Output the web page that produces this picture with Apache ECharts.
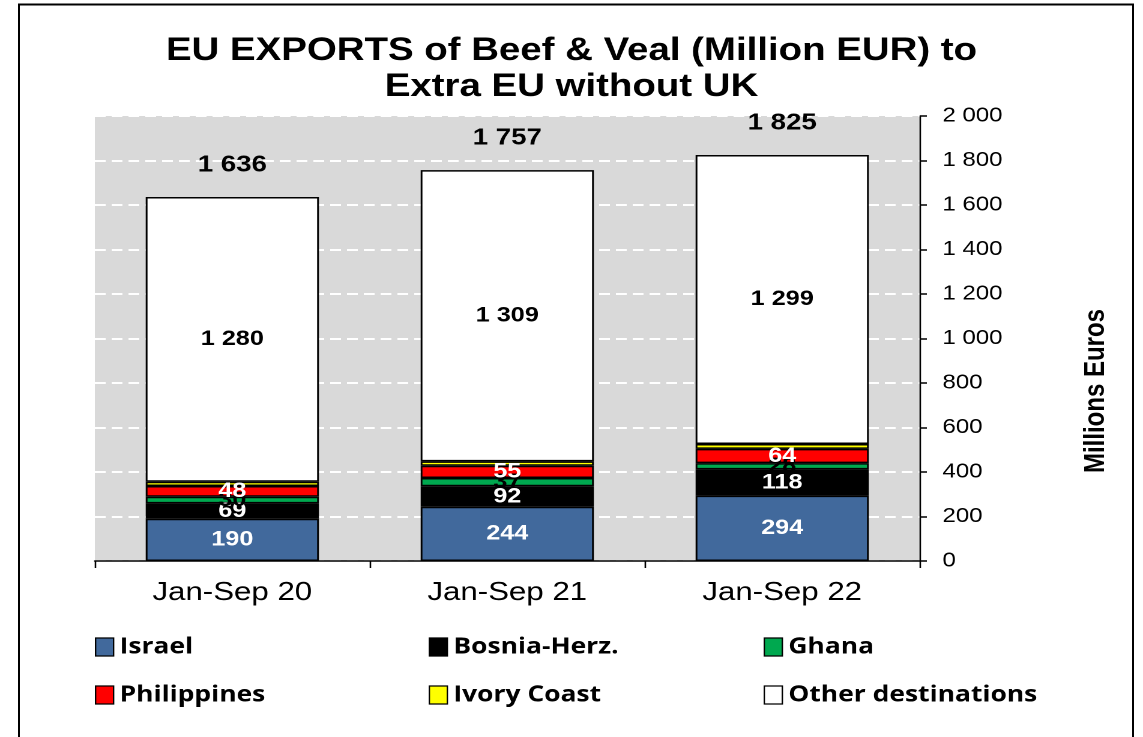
<!DOCTYPE html>
<html>
<head>
<meta charset="utf-8">
<script src="https://cdn.jsdelivr.net/npm/echarts@6/dist/echarts.min.js"></script>
<style>
html,body{margin:0;padding:0;background:#fff}
#wrap{width:1143px;height:737px;overflow:hidden;position:relative}
#c{position:absolute;left:0;top:0;width:952px;height:737px;transform:scaleX(1.2006);transform-origin:0 0}
#b{position:absolute;left:0;top:0;width:1143px;height:737px;pointer-events:none}
</style>
</head>
<body>
<div id="wrap"><div id="c"></div><div id="b"></div></div>
<script>
const categories = ['Jan-Sep 20', 'Jan-Sep 21', 'Jan-Sep 22'];
const israel = [190, 244, 294];
const bosnia = [69, 92, 118];
const ghana = [30, 37, 28];
const philippines = [48, 55, 64];
const ivoryCoast = [19, 20, 22];
const other = [1280, 1309, 1299];
const totals = [1636, 1757, 1825];
const yTicks = [0, 200, 400, 600, 800, 1000, 1200, 1400, 1600, 1800, 2000];

const fmt = v => String(v).replace(/\B(?=(\d{3})+(?!\d))/g, ' ');
const FONT = '"Liberation Sans", Arial, sans-serif';
const LEGFONT = '"Open Sans", "Liberation Sans", sans-serif';

function seg(name, data, color, labelColor) {
  return {
    name, type: 'bar', stack: 'total', data, barWidth: '63%',
    itemStyle: { color, borderColor: '#000', borderWidth: 1.5 },
    label: labelColor ? {
      show: true, position: 'inside', color: labelColor,
      fontFamily: FONT, fontWeight: 'bold', fontSize: 21,
      formatter: p => fmt(p.value)
    } : { show: false },
    emphasis: { disabled: true }
  };
}

const chart = echarts.init(document.getElementById('c'), null, { renderer: 'canvas', devicePixelRatio: 2, width: 952, height: 737 });
chart.setOption({
  backgroundColor: '#fff',
  animation: false,
  title: {
    text: 'EU EXPORTS of Beef & Veal (Million EUR) to\nExtra EU without UK',
    left: 'center', top: 28,
    textStyle: { fontFamily: FONT, fontWeight: 'bold', fontSize: 32, lineHeight: 36, color: '#000' }
  },
  grid: {
    left: 79, right: 186, top: 116, bottom: 176,
    show: true, backgroundColor: '#d9d9d9', borderWidth: 0
  },
  legend: [
    { data: ['Israel', 'Philippines'], left: 74 },
    { data: ['Bosnia-Herz.', 'Ivory Coast'], left: 352 },
    { data: ['Ghana', 'Other destinations'], left: 631 }
  ].map(l => Object.assign({
    orient: 'vertical', top: 630, itemGap: 24, itemWidth: 15, itemHeight: 18,
    icon: 'rect', selectedMode: false, itemStyle: { borderWidth: 1.2 },
    textStyle: { fontFamily: LEGFONT, fontWeight: 'bold', fontSize: 22, color: '#000', lineHeight: 24, padding: [0, 0, 0, 0] }
  }, l)),
  xAxis: {
    type: 'category', data: categories,
    axisLine: { lineStyle: { color: '#000', width: 1.5 } },
    axisTick: { show: true, alignWithLabel: false, length: 7, lineStyle: { color: '#000', width: 1.3 } },
    axisLabel: { fontFamily: FONT, fontSize: 26, color: '#000', margin: 19 },
    splitLine: { show: false }
  },
  yAxis: {
    type: 'value', position: 'right', min: 0, max: 2000, interval: 200,
    axisLine: { show: true, lineStyle: { color: '#000', width: 1.3 } },
    axisTick: { show: true, inside: false, length: 6, lineStyle: { color: '#000', width: 1.5 } },
    axisLabel: {
      fontFamily: FONT, fontSize: 20, color: '#000', margin: 19,
      formatter: v => yTicks.includes(v) ? fmt(v) : ''
    },
    splitLine: { show: true, lineStyle: { color: '#fff', width: 2, type: [9, 5] } }
  },
  series: [
    seg('Israel', israel, '#41699c', '#fff'),
    seg('Bosnia-Herz.', bosnia, '#000000', '#fff'),
    seg('Ghana', ghana, '#00a84f', '#000'),
    seg('Philippines', philippines, '#ff0000', '#fff'),
    seg('Ivory Coast', ivoryCoast, '#ffff00', null),
    seg('Other destinations', other, '#ffffff', '#000'),
    {
      name: 'Total', type: 'scatter', data: totals, symbolSize: 1,
      itemStyle: { color: 'rgba(0,0,0,0)', opacity: 1 },
      label: {
        show: true, position: 'top', distance: 20, color: '#000',
        fontFamily: FONT, fontWeight: 'bold', fontSize: 23,
        formatter: p => fmt(p.value)
      },
      emphasis: { disabled: true }, z: 5
    }
  ],
  graphic: [
    {
      type: 'text', x: 913, y: 391, rotation: Math.PI / 2,
      style: {
        text: 'Millions Euros', fill: '#000', align: 'center', verticalAlign: 'middle',
        font: 'bold 24px "Liberation Sans", Arial, sans-serif'
      }
    }
  ]
});

// Outer frame drawn by a second, unscaled ECharts instance
const frame = echarts.init(document.getElementById('b'), null, { renderer: 'canvas', width: 1143, height: 737 });
frame.setOption({
  backgroundColor: 'transparent',
  animation: false,
  graphic: [
    {
      type: 'polyline', silent: true,
      shape: { points: [[19, 740], [19, 4.5], [1133, 4.5], [1133, 740]] },
      style: { fill: null, stroke: '#000', lineWidth: 2 }
    }
  ]
});
</script>
</body>
</html>
